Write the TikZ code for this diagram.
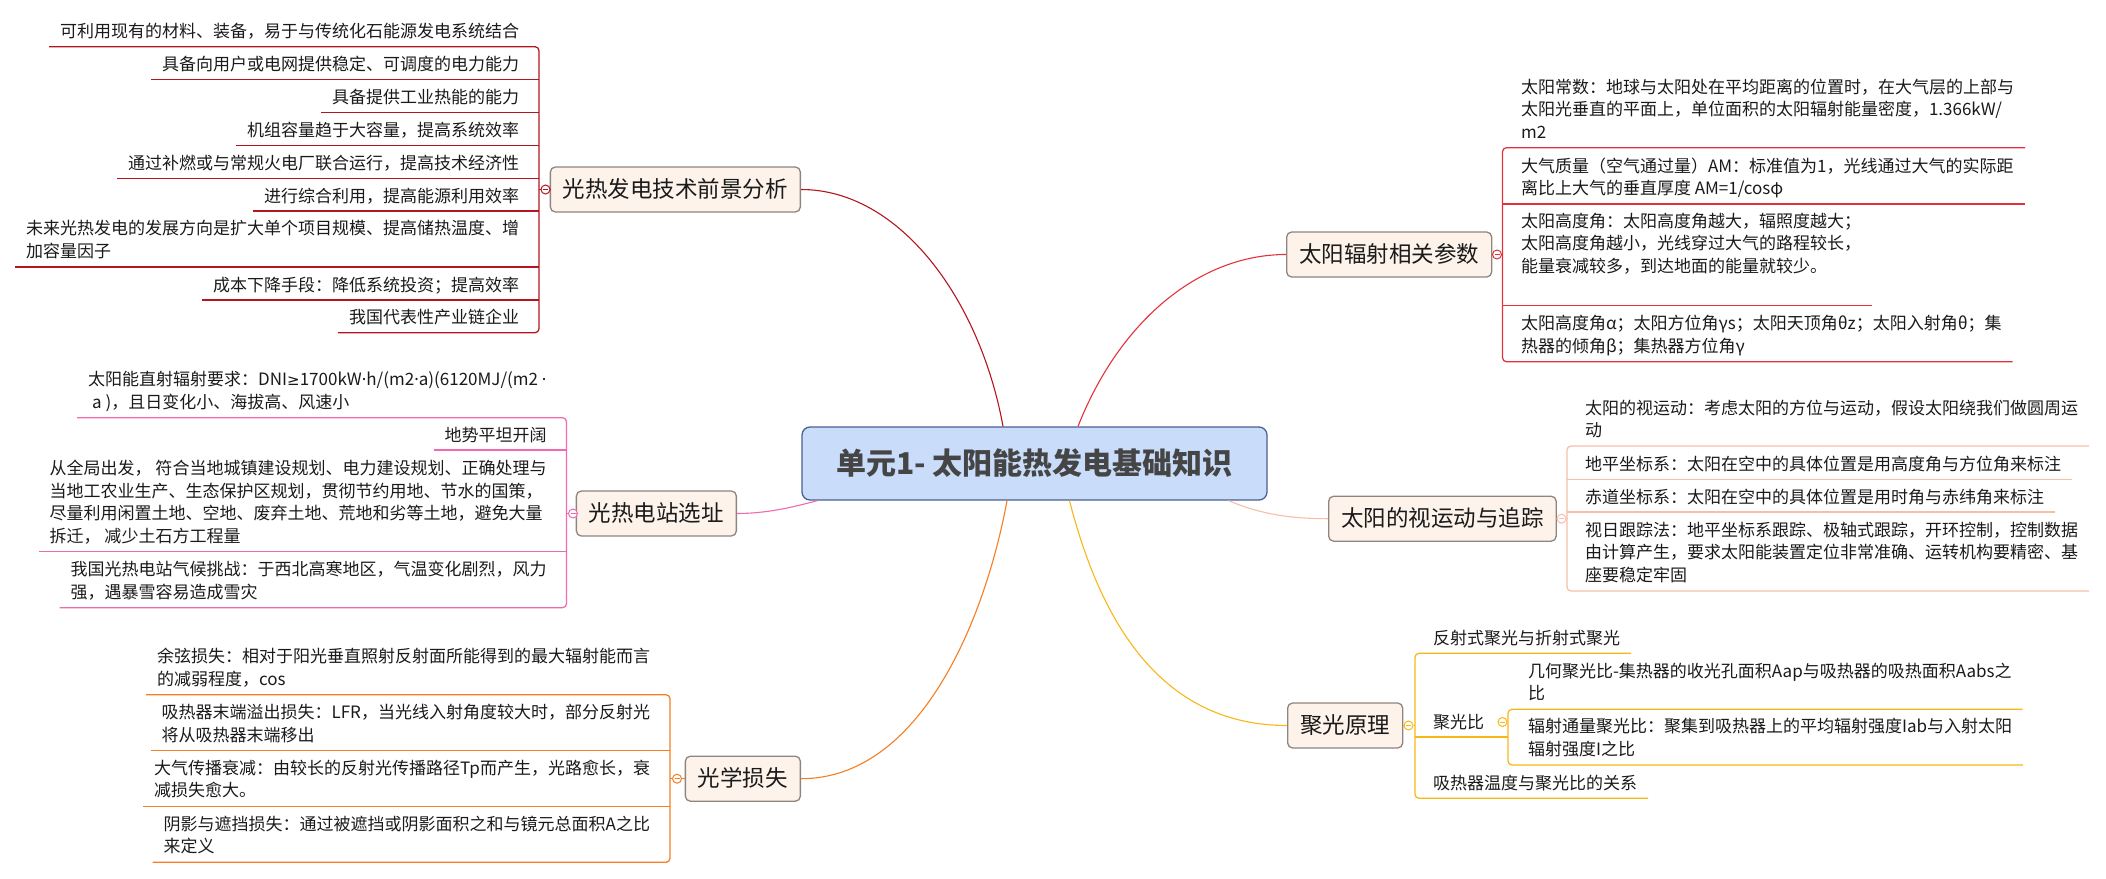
\documentclass[tikz,border=0pt]{standalone}
\usepackage{fontspec}
\newfontfamily\cjk{Noto Sans CJK SC}
\newfontfamily\lat{Noto Sans}
\newfontfamily\dv{DejaVu Sans}
\usetikzlibrary{calc}
\definecolor{cA}{HTML}{B3161E}
\definecolor{cB}{HTML}{F06AAE}
\definecolor{cC}{HTML}{F57E22}
\definecolor{cD}{HTML}{E2333C}
\definecolor{cE}{HTML}{F6BEA8}
\definecolor{cF}{HTML}{F7B715}
\definecolor{boxfill}{HTML}{FDF3EB}
\definecolor{boxdraw}{HTML}{8E8580}
\definecolor{cfill}{HTML}{C9DCFA}
\definecolor{cdraw}{HTML}{4A6190}
\definecolor{ctext}{HTML}{454545}
\definecolor{ltext}{HTML}{1A1A1A}
\begin{document}
\begin{tikzpicture}[x=1pt,y=-1pt,
 leaf/.style={font=\cjk\fontsize{17}{22.4}\selectfont, text=ltext, align=left, inner xsep=11pt, inner ysep=0pt, outer sep=0pt, execute at begin node={\rule{0pt}{15pt}}},
 topic/.style={font=\cjk\fontsize{22.5}{27}\selectfont, text=ltext, fill=boxfill, draw=boxdraw, line width=1.3pt, rounded corners=5pt, inner xsep=12.5pt, inner ysep=0pt, minimum height=45pt, text height=18pt, text depth=2pt},
 root/.style={font=\cjk\bfseries\fontsize{30}{35}\selectfont, text=ctext, fill=cfill, draw=cdraw, line width=1.3pt, rounded corners=8pt, minimum width=465pt, minimum height=73pt, inner sep=0pt, text height=24pt, text depth=3pt},
 fold/.style={circle, fill=white, draw, line width=1pt, minimum size=9pt, inner sep=0pt},
 conn/.style={line width=1.1pt},
 ul/.style={line width=1.25pt, rounded corners=4pt},
]
\useasboundingbox (0,0) rectangle (2106,878);

% root
\node[root] (R) at (1034.5,463.5) {单元1- 太阳能热发电基础知识};

% main topics
\node[topic, anchor=east] (A) at (801,189.5) {光热发电技术前景分析};
\node[topic, anchor=east] (B) at (737,513.5) {光热电站选址};
\node[topic, anchor=east] (C) at (801,778.7) {光学损失};
\node[topic, anchor=west] (D) at (1286,254.5) {太阳辐射相关参数};
\node[topic, anchor=west] (E) at (1328,518.7) {太阳的视运动与追踪};
\node[topic, anchor=west] (F) at (1287,725.5) {聚光原理};

% main curves
\draw[conn, cA] ([xshift=-31.5pt]R.north) .. controls (980,300) and (900,189.5) .. (A.east);
\draw[conn, cB] ([xshift=16pt]R.south west) .. controls (790,508) and (765,513.5) .. (B.east);
\draw[conn, cC] ([xshift=-27.5pt]R.south) .. controls (985,620) and (920,778.7) .. (C.east);
\draw[conn, cD] ([xshift=43.5pt]R.north) .. controls (1120,320) and (1200,254.5) .. (D.west);
\draw[conn, cE] ([xshift=-39pt]R.south east) .. controls (1260,514) and (1290,518.7) .. (E.west);
\draw[conn, cF] ([xshift=35pt]R.south) .. controls (1100,620) and (1160,725.5) .. (F.west);

% ---------- group A ----------
\node[leaf, anchor=north east] (a1) at (530,22.7) {可利用现有的材料、装备，易于与传统化石能源发电系统结合};
\node[leaf, anchor=north east] (a2) at (530,55.3) {具备向用户或电网提供稳定、可调度的电力能力};
\node[leaf, anchor=north east] (a3) at (530,88.7) {具备提供工业热能的能力};
\node[leaf, anchor=north east] (a4) at (530,121.3) {机组容量趋于大容量，提高系统效率};
\node[leaf, anchor=north east] (a5) at (530,154.3) {通过补燃或与常规火电厂联合运行，提高技术经济性};
\node[leaf, anchor=north east] (a6) at (530,187) {进行综合利用，提高能源利用效率};
\node[leaf, anchor=north east] (a7) at (530,220.6) {未来光热发电的发展方向是扩大单个项目规模、提高储热温度、增\\加容量因子};
\node[leaf, anchor=north east] (a8) at (530,276) {成本下降手段：降低系统投资；提高效率};
\node[leaf, anchor=north east] (a9) at (530,308.7) {我国代表性产业链企业};
\coordinate (uA1) at (539,46.7);
\coordinate (uA2) at (539,79.3);
\coordinate (uA3) at (539,112.7);
\coordinate (uA4) at (539,145.3);
\coordinate (uA5) at (539,178.3);
\coordinate (uA6) at (539,211);
\coordinate (uA7) at (539,267);
\coordinate (uA8) at (539,300);
\coordinate (uA9) at (539,332.7);
\draw[ul, cA] (a1.west |- uA1) -- (uA1) -- (uA9) -- (a9.west |- uA9);
\foreach \i in {2,...,8} {\draw[ul, cA] (a\i.west |- uA\i) -- (uA\i);}
\node[fold, draw=cA] (kA) at (545.5,189.5) {};
\draw[conn, cA] (A.west) -- (kA);
\draw[conn, cA] (kA) -- (kA -| uA1);
\draw[cA, line width=1pt] ([xshift=-2.5pt]kA.center) -- ([xshift=2.5pt]kA.center);

% ---------- group B ----------
\node[leaf, anchor=north east] (b1) at (557.5,371.3) {太阳能直射辐射要求：DNI{\dv\fontsize{15}{22.4}\selectfont ≥}1700kW{\lat ·}h/(m2{\lat ·}a)(6120MJ/(m2 {\lat ·}\\\hspace{4pt}a )，且日变化小、海拔高、风速小};
\node[leaf, anchor=north east] (b2) at (557.5,426) {地势平坦开阔};
\node[leaf, anchor=north east] (b3) at (557.5,460.5) {从全局出发， 符合当地城镇建设规划、电力建设规划、正确处理与\\当地工农业生产、生态保护区规划，贯彻节约用地、节水的国策，\\尽量利用闲置土地、空地、废弃土地、荒地和劣等土地，避免大量\\拆迁， 减少土石方工程量};
\node[leaf, anchor=north east] (b4) at (557.5,561.3) {我国光热电站气候挑战：于西北高寒地区，气温变化剧烈，风力\\强，遇暴雪容易造成雪灾};
\coordinate (uB1) at (566.5,417.7);
\coordinate (uB2) at (566.5,450);
\coordinate (uB3) at (566.5,551.7);
\coordinate (uB4) at (566.5,607.7);
\draw[ul, cB] (b1.west |- uB1) -- (uB1) -- (uB4) -- (b4.west |- uB4);
\foreach \i in {2,3} {\draw[ul, cB] (b\i.west |- uB\i) -- (uB\i);}
\node[fold, draw=cB] (kB) at (573,513.5) {};
\draw[conn, cB] (B.west) -- (kB);
\draw[conn, cB] (kB) -- (kB -| uB1);
\draw[cB, line width=1pt] ([xshift=-2.5pt]kB.center) -- ([xshift=2.5pt]kB.center);

% ---------- group C ----------
\node[leaf, anchor=north east] (c1) at (661,648.3) {余弦损失：相对于阳光垂直照射反射面所能得到的最大辐射能而言\\的减弱程度，cos};
\node[leaf, anchor=north east] (c2) at (661,704.3) {吸热器末端溢出损失：LFR，当光线入射角度较大时，部分反射光\\将从吸热器末端移出};
\node[leaf, anchor=north east] (c3) at (661,759.9) {大气传播衰减：由较长的反射光传播路径Tp而产生，光路愈长，衰\\减损失愈大。};
\node[leaf, anchor=north east] (c4) at (661,815.9) {阴影与遮挡损失：通过被遮挡或阴影面积之和与镜元总面积A之比\\来定义};
\coordinate (uC1) at (670,694.7);
\coordinate (uC2) at (670,750.7);
\coordinate (uC3) at (670,806.3);
\coordinate (uC4) at (670,862.3);
\draw[ul, cC] (c1.west |- uC1) -- (uC1) -- (uC4) -- (c4.west |- uC4);
\foreach \i in {2,3} {\draw[ul, cC] (c\i.west |- uC\i) -- (uC\i);}
\node[fold, draw=cC] (kC) at (677,778.7) {};
\draw[conn, cC] (C.west) -- (kC);
\draw[conn, cC] (kC) -- (kC -| uC1);
\draw[cC, line width=1pt] ([xshift=-2.5pt]kC.center) -- ([xshift=2.5pt]kC.center);

% ---------- group D ----------
\node[leaf, anchor=north west] (d1) at (1510,78.9) {太阳常数：地球与太阳处在平均距离的位置时，在大气层的上部与\\太阳光垂直的平面上，单位面积的太阳辐射能量密度，1.366kW/\\m2};
\node[leaf, anchor=north west] (d2) at (1510,157.6) {大气质量（空气通过量）AM：标准值为1，光线通过大气的实际距\\离比上大气的垂直厚度 AM=1/cosφ};
\node[leaf, anchor=north west] (d3) at (1510,213.2) {太阳高度角：太阳高度角越大，辐照度越大；\\太阳高度角越小，光线穿过大气的路程较长，\\能量衰减较多，到达地面的能量就较少。};
\node[leaf, anchor=north west] (d4) at (1510,315.3) {太阳高度角α；太阳方位角γs；太阳天顶角θz；太阳入射角θ；集\\热器的倾角β；集热器方位角γ};
\coordinate (uD1) at (1502.5,147.7);
\coordinate (uD2) at (1502.5,204);
\coordinate (uD3) at (1502.5,305.7);
\coordinate (uD4) at (1502.5,361.7);
\draw[ul, cD] (d1.east |- uD1) -- (uD1) -- (uD4) -- (d4.east |- uD4);
\foreach \i in {2,3} {\draw[ul, cD] (d\i.east |- uD\i) -- (uD\i);}
\node[fold, draw=cD] (kD) at (1497,254.5) {};
\draw[conn, cD] (D.east) -- (kD);
\draw[conn, cD] (kD) -- (kD -| uD1);
\draw[cD, line width=1pt] ([xshift=-2.5pt]kD.center) -- ([xshift=2.5pt]kD.center);

% ---------- group E ----------
\node[leaf, anchor=north west] (e1) at (1574,399.6) {太阳的视运动：考虑太阳的方位与运动，假设太阳绕我们做圆周运\\动};
\node[leaf, anchor=north west] (e2) at (1574,455.3) {地平坐标系：太阳在空中的具体位置是用高度角与方位角来标注};
\node[leaf, anchor=north west] (e3) at (1574,488) {赤道坐标系：太阳在空中的具体位置是用时角与赤纬角来标注};
\node[leaf, anchor=north west] (e4) at (1574,522.2) {视日跟踪法：地平坐标系跟踪、极轴式跟踪，开环控制，控制数据\\由计算产生，要求太阳能装置定位非常准确、运转机构要精密、基\\座要稳定牢固};
\coordinate (uE1) at (1567,446);
\coordinate (uE2) at (1567,479.3);
\coordinate (uE3) at (1567,512);
\coordinate (uE4) at (1567,591);
\draw[ul, cE] (e1.east |- uE1) -- (uE1) -- (uE4) -- (e4.east |- uE4);
\foreach \i in {2,3} {\draw[ul, cE] (e\i.east |- uE\i) -- (uE\i);}
\node[fold, draw=cE] (kE) at (1561.5,518.7) {};
\draw[conn, cE] (E.east) -- (kE);
\draw[conn, cE] (kE) -- (kE -| uE1);
\draw[cE, line width=1pt] ([xshift=-2.5pt]kE.center) -- ([xshift=2.5pt]kE.center);

% ---------- group F ----------
\node[leaf, anchor=north west] (f1) at (1422,629.3) {反射式聚光与折射式聚光};
\node[leaf, anchor=north west] (f2) at (1422,713) {聚光比};
\node[leaf, anchor=north west] (f3) at (1422,774.3) {吸热器温度与聚光比的关系};
\node[leaf, anchor=north west] (f2a) at (1517,662.9) {几何聚光比-集热器的收光孔面积Aap与吸热器的吸热面积Aabs之\\比};
\node[leaf, anchor=north west] (f2b) at (1517,718.6) {辐射通量聚光比：聚集到吸热器上的平均辐射强度Iab与入射太阳\\辐射强度I之比};
\coordinate (uF1) at (1415,653.3);
\coordinate (uF2) at (1415,737);
\coordinate (uF3) at (1415,798.3);
\coordinate (uG1) at (1508,709.3);
\coordinate (uG2) at (1508,765);
\coordinate (uG0) at (1508,737);
\draw[ul, cF] (f1.east |- uF1) -- (uF1) -- (uF3) -- (f3.east |- uF3);
\draw[ul, cF] (uF2) -- (uG0);
\draw[ul, cF] (f2a.east |- uG1) -- (uG1) -- (uG2) -- (f2b.east |- uG2);
\node[fold, draw=cF] (kF) at (1408.5,725.5) {};
\draw[conn, cF] (F.east) -- (kF);
\draw[conn, cF] (kF) -- (kF -| uF1);
\draw[cF, line width=1pt] ([xshift=-2.5pt]kF.center) -- ([xshift=2.5pt]kF.center);
\node[fold, draw=cF] (kG) at (1502.5,722) {};
\draw[cF, line width=1pt] ([xshift=-2.5pt]kG.center) -- ([xshift=2.5pt]kG.center);
\end{tikzpicture}
\end{document}
